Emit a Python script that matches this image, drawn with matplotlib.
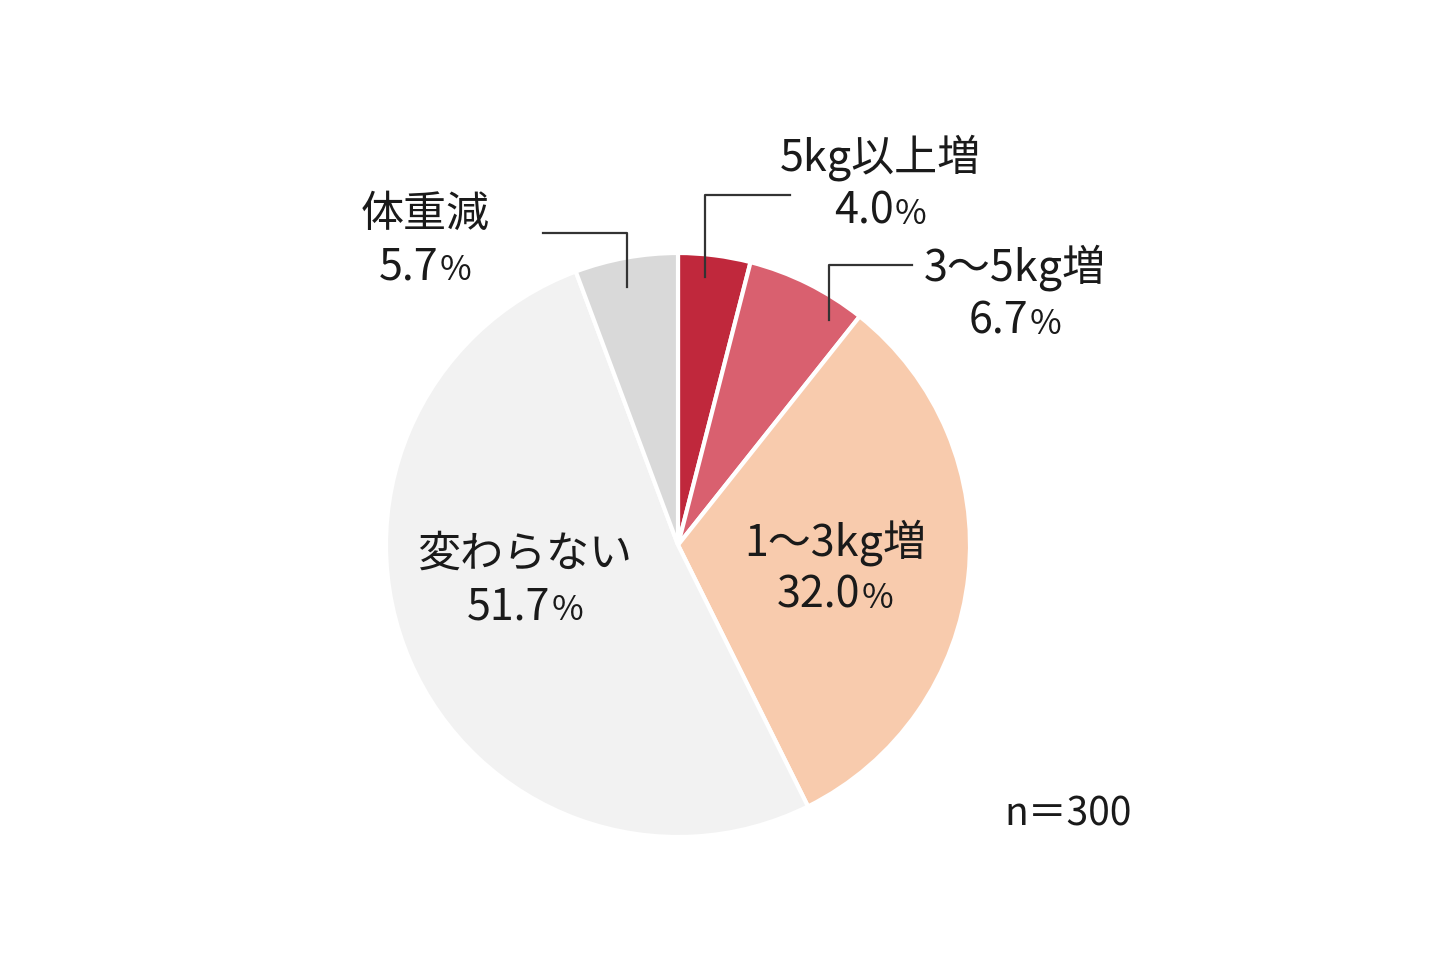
import matplotlib
matplotlib.use("Agg")
import matplotlib.pyplot as plt

plt.rcParams['font.family'] = ['Noto Sans CJK JP', 'DejaVu Sans']

# データ
labels = ["5kg以上増", "3～5kg増", "1～3kg増", "変わらない", "体重減"]
values = [4.0, 6.7, 32.0, 51.7, 5.7]
colors = ["#C0283C", "#D9606F", "#F8CBAD", "#F2F2F2", "#D9D9D9"]
note = "n＝300"

W, H = 1440, 960
fig = plt.figure(figsize=(W / 100, H / 100), dpi=100)
ax = fig.add_axes([0, 0, 1, 1])
ax.set_xlim(0, W)
ax.set_ylim(0, H)
ax.set_aspect("equal")
ax.axis("off")

def py(y):
    # pixel (top origin) -> data
    return H - y

cx, cy, R = 678, 545, 292
ax.pie(values, colors=colors, startangle=90, counterclock=False,
       center=(cx, py(cy)), radius=R,
       wedgeprops=dict(edgecolor="white", linewidth=3))
ax.set_xlim(0, W)
ax.set_ylim(0, H)

# ラベル位置 (ラベル中心 x, 1行目 y)
label_pos = [(880, 158), (1015, 268), (835, 543), (525, 555), (425, 215)]
# 引き出し線
leaders = [
    [(705, 277), (705, 195), (790, 195)],
    [(829, 320), (829, 265), (912, 265)],
    None,
    None,
    [(627, 287), (627, 233), (543, 233)],
]

txt = "#1a1a1a"
fs = 31
renderer = fig.canvas.get_renderer()
for lab, v, (x, y), ld in zip(labels, values, label_pos, leaders):
    ax.text(x, py(y), lab, ha="center", va="center", fontsize=fs, color=txt)
    # 数値と%（%は小さめ）
    t1 = ax.text(0, py(y + 53), f"{v:.1f}", ha="left", va="center",
                 fontsize=fs, color=txt)
    t2 = ax.text(0, py(y + 56), "%", ha="left", va="center",
                 fontsize=fs * 0.8, color=txt)
    w1 = t1.get_window_extent(renderer).width
    w2 = t2.get_window_extent(renderer).width
    x0 = x - (w1 + w2 + 1) / 2
    t1.set_x(x0)
    t2.set_x(x0 + w1 + 1)
    if ld:
        xs = [p[0] for p in ld]
        ys = [py(p[1]) for p in ld]
        ax.plot(xs, ys, color="#333333", linewidth=1.6)

ax.text(1068, py(815), note, ha="center", va="center", fontsize=28, color=txt)

fig.savefig("out.png", dpi=100, facecolor="white")
